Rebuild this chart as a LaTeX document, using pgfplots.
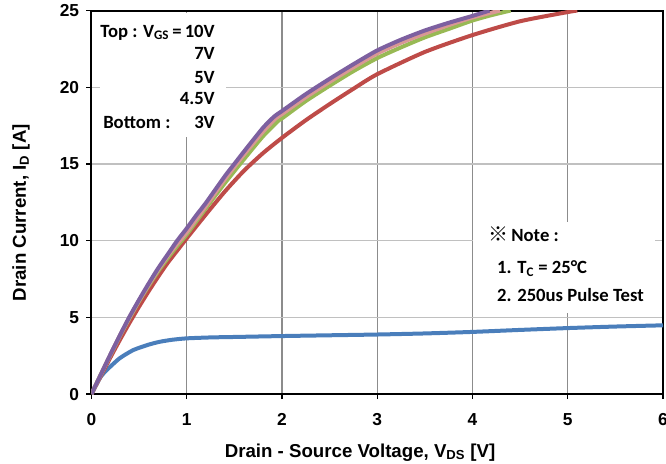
\documentclass[border=0pt]{standalone}
\usepackage{pgfplots}
\pgfplotsset{compat=1.18}
\usepackage{fontspec}
\setmainfont{Carlito}
\newfontfamily\arial{Liberation Sans}
\newfontfamily\cjk{Noto Sans CJK SC}
\definecolor{cblue}{HTML}{4A7EBB}
\definecolor{cred}{HTML}{BE4B48}
\definecolor{cgreen}{HTML}{98B954}
\definecolor{cpink}{HTML}{D99795}
\definecolor{cpurple}{HTML}{7D60A0}
\definecolor{vgrid}{HTML}{8C8C8C}
\definecolor{hgrid}{HTML}{C0C0C0}
\begin{document}
\begin{tikzpicture}
\begin{axis}[
  scale only axis,
  width=428.6pt, height=287.6pt,
  xmin=0, xmax=6, ymin=0, ymax=25,
  xtick={0,1,2,3,4,5,6}, ytick={0,5,10,15,20,25},
  xmajorgrids, ymajorgrids,
  x grid style={vgrid, line width=0.9pt},
  y grid style={hgrid, line width=0.9pt},
  axis line style={black, line width=1.5pt},
  tick align=outside, tick pos=left,
  major tick length=3.75pt,
  tick style={black, line width=1pt},
  /pgf/number format/assume math mode=true,
  tick label style={font=\arial\bfseries\fontsize{13}{15}\selectfont},
  xticklabel style={anchor=base, yshift=-20pt},
  yticklabel style={anchor=east, xshift=-2pt},
  xlabel={Drain - Source Voltage, V\textsubscript{DS} [V]},
  ylabel={Drain Current, I\textsubscript{D} [A]},
  label style={font=\arial\bfseries\fontsize{14}{16}\selectfont},
  xlabel style={at={([yshift=-47.25pt]axis description cs:0.47,0)}, anchor=base},
  ylabel style={at={([xshift=-49.1pt]axis description cs:0,0.473)}, anchor=base},
  every axis plot/.append style={line width=3pt, line join=round, smooth, tension=0.4},
]
\addplot[cblue] coordinates {(0,0)(0.05,0.6)(0.1,1.15)(0.15,1.5)(0.2,1.8)(0.3,2.35)(0.44,2.87)(0.6,3.22)(0.72,3.41)(0.85,3.54)(1,3.63)(1.25,3.69)(1.5,3.72)(2,3.78)(2.5,3.83)(3,3.88)(3.5,3.95)(4,4.05)(4.5,4.18)(5,4.3)(5.5,4.4)(6,4.48)};
\addplot[cred] coordinates {(0,0)(0.1,1.2)(0.2,2.4)(0.3,3.55)(0.4,4.65)(0.5,5.7)(0.6,6.7)(0.7,7.65)(0.8,8.55)(0.9,9.35)(1.0,10.15)(1.2,11.7)(1.4,13.2)(1.6,14.55)(1.8,15.7)(2.0,16.7)(2.25,17.85)(2.5,18.9)(2.75,19.9)(3.0,20.85)(3.5,22.3)(4.0,23.4)(4.5,24.3)(5.0,24.9)(5.1,25.0)};
\addplot[cgreen] coordinates {(0,0)(0.1,1.3)(0.2,2.55)(0.3,3.8)(0.4,4.95)(0.5,6.05)(0.6,7.05)(0.7,8.0)(0.8,8.85)(0.9,9.65)(1.0,10.4)(1.2,12.1)(1.4,13.75)(1.6,15.3)(1.8,16.8)(1.96,17.8)(2.0,17.97)(2.25,19.1)(2.5,20.1)(2.75,21.05)(3.0,21.9)(3.25,22.6)(3.5,23.25)(3.75,23.8)(4.0,24.35)(4.2,24.7)(4.4,25.0)};
\addplot[cpink] coordinates {(0,0)(0.1,1.3)(0.2,2.58)(0.3,3.83)(0.4,5.0)(0.5,6.1)(0.6,7.12)(0.7,8.1)(0.8,9.0)(0.9,9.8)(1.0,10.55)(1.2,12.25)(1.4,14.0)(1.6,15.6)(1.8,17.1)(1.94,18.0)(2.0,18.25)(2.25,19.35)(2.5,20.35)(2.75,21.3)(3.0,22.2)(3.25,22.9)(3.5,23.5)(3.75,24.05)(4.0,24.55)(4.29,25.0)};
\addplot[cpurple] coordinates {(0,0)(0.1,1.3)(0.2,2.6)(0.3,3.85)(0.4,5.05)(0.5,6.15)(0.6,7.2)(0.7,8.2)(0.8,9.1)(0.9,10.0)(1.0,10.8)(1.1,11.65)(1.2,12.45)(1.4,14.2)(1.5,15.0)(1.6,15.8)(1.8,17.35)(1.92,18.1)(2.0,18.45)(2.25,19.55)(2.5,20.55)(2.75,21.5)(3.0,22.4)(3.25,23.1)(3.5,23.7)(3.75,24.2)(4.0,24.65)(4.18,25.0)};
\fill[white] (axis cs:0.09,16.75) rectangle (axis cs:1.41,24.85);
\fill[white] (axis cs:4.005,5.28) rectangle (axis cs:5.916,11.21);
\begin{scope}[every node/.style={font=\bfseries\fontsize{14}{16}\selectfont, inner sep=0pt}]
\node[anchor=mid east] at (axis cs:1.297,23.48) {Top : V\textsubscript{GS}\,=\,10V};
\node[anchor=mid east] at (axis cs:1.297,22.01) {7V};
\node[anchor=mid east] at (axis cs:1.297,20.48) {5V};
\node[anchor=mid east] at (axis cs:1.297,19.07) {4.5V};
\node[anchor=mid west] at (axis cs:0.121,17.55) {Bottom :};
\node[anchor=mid east] at (axis cs:1.297,17.55) {3V};
\node[anchor=mid west] at (axis cs:4.163,10.17) {{\cjk\fontsize{15}{16}\selectfont ※}\,Note :};
\node[anchor=mid west] at (axis cs:4.257,8.05) {1. T\textsubscript{C} = 25°C};
\node[anchor=mid west] at (axis cs:4.257,6.25) {2. 250us Pulse Test};
\end{scope}
\coordinate (ll) at (rel axis cs:0,0);
\coordinate (ur) at (rel axis cs:1,1);
\end{axis}
\pgfresetboundingbox
\path[use as bounding box] ([xshift=-68.6pt,yshift=-51.75pt]ll) rectangle ([xshift=2.25pt,yshift=7.9pt]ur);
\end{tikzpicture}
\end{document}
